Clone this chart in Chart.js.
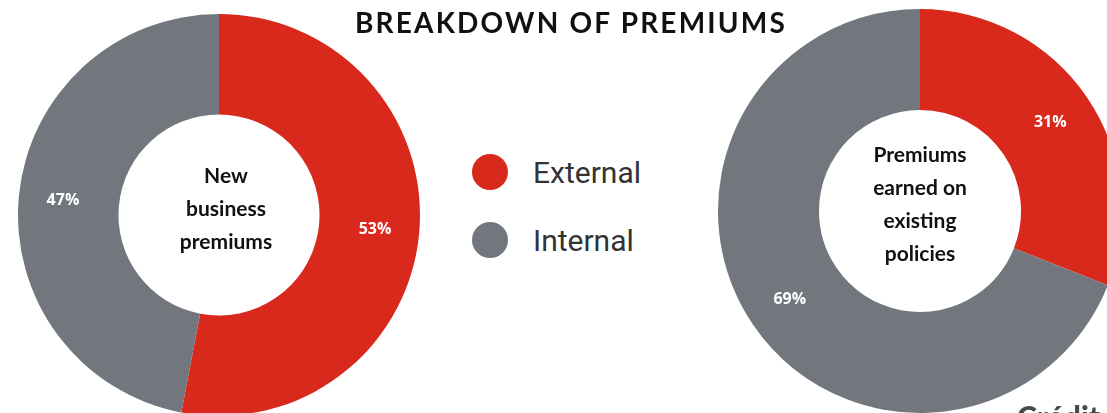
<!DOCTYPE html>
<html>
<head>
<meta charset="utf-8">
<script src="https://cdn.jsdelivr.net/npm/chart.js@4.4.0/dist/chart.umd.min.js"></script>
<style>
    html, body {
        margin: 0;
        padding: 0;
        width: 1107px;
        height: 413px;
        overflow: hidden;
        background: #fff;
    }
    #title {
        position: absolute;
        top: 5px;
        left: 0;
        width: 1142px;
        text-align: center;
        font-family: 'Lato', sans-serif;
        font-weight: 700;
        font-size: 28px;
        letter-spacing: 2.2px;
        color: #111;
        z-index: 2;
    }
    .donut {
        position: absolute;
    }
    #leftWrap { left: 18px; top: 14px; width: 402px; height: 402px; }
    #rightWrap { left: 718px; top: 9px; width: 404px; height: 404px; }
    #legend {
        position: absolute;
        left: 472px;
        top: 150px;
        font-family: 'Roboto', sans-serif;
        font-size: 30px;
        color: #333;
    }
    .legend-item {
        display: flex;
        align-items: center;
        height: 44px;
        margin-bottom: 24px;
    }
    .legend-dot {
        width: 36px;
        height: 36px;
        border-radius: 50%;
        margin-right: 25px;
    }
    #credit {
        position: absolute;
        left: 1017px;
        top: 398px;
        font-family: 'Lato', sans-serif;
        font-weight: 900;
        font-size: 30px;
        color: #4a4a4a;
    }
</style>
</head>
<body>
<div id="title">BREAKDOWN OF PREMIUMS</div>
<div id="leftWrap" class="donut"><canvas id="leftChart"></canvas></div>
<div id="rightWrap" class="donut"><canvas id="rightChart"></canvas></div>
<div id="legend"></div>
<div id="credit">Crédit</div>

<script>
// Shares of each premium type
const categories = ['External', 'Internal'];
const colors = ['#d9291d', '#72777d'];
const newBusinessShares = [53, 47];
const existingPolicyShares = [31, 69];
const newBusinessLabel = ['New', 'business', 'premiums'];
const existingPolicyLabel = ['Premiums', 'earned on', 'existing', 'policies'];

// Percent labels on each slice plus the caption in the hole
const donutText = {
    id: 'donutText',
    afterDatasetsDraw(chart, args, opts) {
        const ctx = chart.ctx;
        const meta = chart.getDatasetMeta(0);
        const values = chart.data.datasets[0].data;
        ctx.save();
        ctx.textAlign = 'center';
        ctx.textBaseline = 'middle';
        ctx.fillStyle = '#fff';
        ctx.font = 'bold 16px "Open Sans", sans-serif';
        meta.data.forEach((arc, i) => {
            const p = arc.getProps(['x', 'y', 'startAngle', 'endAngle', 'innerRadius', 'outerRadius']);
            const a = (p.startAngle + p.endAngle) / 2;
            const r = (p.innerRadius + p.outerRadius) / 2 + 6;
            ctx.fillText(values[i] + '%', p.x + Math.cos(a) * r, p.y + Math.sin(a) * r);
        });

        const first = meta.data[0];
        ctx.fillStyle = '#111';
        ctx.font = 'bold 21px "Lato", sans-serif';
        const lines = opts.lines || [];
        const lineH = 33;
        const startY = first.y - (lines.length - 1) * lineH / 2 + (opts.dy || 0);
        lines.forEach((line, i) => {
            ctx.fillText(line, first.x + (opts.dx || 0), startY + i * lineH);
        });
        ctx.restore();
    }
};

function makeDonut(id, values, lines, dx, dy) {
    return new Chart(document.getElementById(id), {
        type: 'doughnut',
        data: {
            labels: categories,
            datasets: [{
                data: values,
                backgroundColor: colors,
                borderWidth: 0
            }]
        },
        options: {
            responsive: true,
            maintainAspectRatio: false,
            cutout: '50%',
            animation: false,
            layout: { padding: 0 },
            plugins: {
                legend: { display: false },
                tooltip: { enabled: false },
                donutText: { lines: lines, dx: dx, dy: dy }
            }
        },
        plugins: [donutText]
    });
}

makeDonut('leftChart', newBusinessShares, newBusinessLabel, 7, -6);
makeDonut('rightChart', existingPolicyShares, existingPolicyLabel, 0, -6);

// Legend in the middle
const legend = document.getElementById('legend');
legend.innerHTML = categories.map((name, i) => `
    <div class="legend-item">
        <div class="legend-dot" style="background:${colors[i]}"></div>
        <span>${name}</span>
    </div>
`).join('');
</script>
</body>
</html>
